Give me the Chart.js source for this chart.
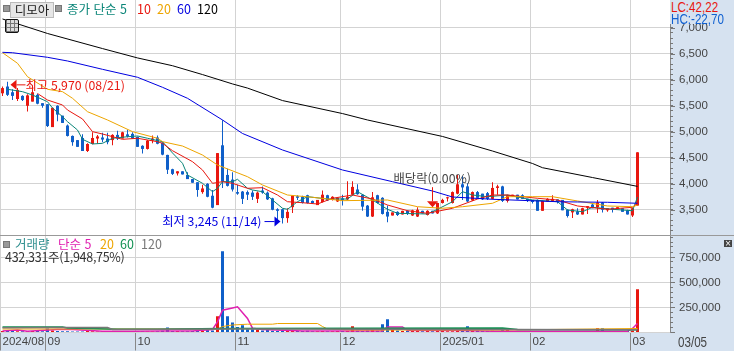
<!DOCTYPE html>
<html lang="ko">
<head>
<meta charset="utf-8">
<title>디모아</title>
<script src="https://cdn.jsdelivr.net/npm/chart.js@4/dist/chart.umd.min.js"></script>
<style>
    html, body { margin: 0; padding: 0; }
    body { width: 734px; height: 351px; position: relative; overflow: hidden; background: #d6e2f0; font-family: "Noto Sans CJK KR", sans-serif; }
    canvas { position: absolute; left: 0; }
    #price-chart { top: 0; }
    #volume-chart { top: 236px; }
    .txt { position: absolute; white-space: nowrap; font-size: 12.5px; line-height: 14px; }
    .num { font-family: "Liberation Sans", sans-serif; font-size: 14px; transform: scaleX(0.83); transform-origin: left center; }
    .mark { position: absolute; width: 5px; height: 5px; background: #999; border: 1px solid #777; }
    #stock-name { left: 10px; top: 2px; width: 42px; height: 14px; background: #e6e6e6; border: 1px solid #bbb; text-align: center; color: #222; }
    #table-icon { position: absolute; left: 5px; top: 19px; width: 12px; height: 12px; border: 1px solid #111; border-radius: 2px; background: repeating-linear-gradient(90deg, #777 0 1px, transparent 1px 4px), repeating-linear-gradient(0deg, #777 0 1px, #ddd 1px 4px); }
    #hc-box { position: absolute; left: 670px; top: 0; width: 64px; height: 24px; background: #d6e2f0; }
    #divider { position: absolute; left: 0; top: 235px; width: 734px; height: 1px; background: #999; }
    #close-icon { position: absolute; left: 724px; top: 240px; width: 8px; height: 7px; background: #444; color: #fff; font: 8px/7px "DejaVu Sans", sans-serif; text-align: center; }
</style>
</head>
<body>
<canvas id="price-chart" width="734" height="235"></canvas>
<canvas id="volume-chart" width="734" height="115"></canvas>
<div id="divider"></div>

<div class="mark" style="left:3px;top:5px"></div>
<div class="txt" id="stock-name">디모아</div>
<div class="mark" style="left:55px;top:5px"></div>
<div class="txt" style="left:67px;top:2px;color:#0a8578">종가 단순 5</div>
<div class="txt" style="left:137px;top:2px;color:#e8170f">10</div>
<div class="txt" style="left:157px;top:2px;color:#eda500">20</div>
<div class="txt" style="left:177px;top:2px;color:#0000e0">60</div>
<div class="txt" style="left:197px;top:2px;color:#000">120</div>
<div id="table-icon"></div>

<div id="hc-box"></div>
<div class="txt num" style="left:671px;top:0;color:#e8170f">LC:42,22</div>
<div class="txt num" style="left:671px;top:12px;color:#1060d0">HC:-22,70</div>

<div class="mark" style="left:3px;top:241px"></div>
<div class="txt" style="left:15px;top:237px;color:#2f8f8f">거래량</div>
<div class="txt" style="left:58px;top:237px;color:#e020b0">단순 5</div>
<div class="txt" style="left:100px;top:237px;color:#eda500">20</div>
<div class="txt" style="left:120px;top:237px;color:#109050">60</div>
<div class="txt" style="left:141px;top:237px;color:#777">120</div>
<div class="txt" style="left:5px;top:250px;color:#333;letter-spacing:-0.3px">432,331주(1,948,75%)</div>
<div id="close-icon">×</div>
<div class="txt num" style="left:678px;top:335px;color:#444">03/05</div>

<script>
// 월 시작 위치에만 라벨
const dayLabels = [
    '2024/08','','','','','','','','',
    '09','','','','','','','','','','','','','','','','','',
    '10','','','','','','','','','','','','','','','','','','','',
    '11','','','','','','','','','','','','','','','','','','','','',
    '12','','','','','','','','','','','','','','','','','','','',
    '2025/01','','','','','','','','','','','','','','','','','',
    '02','','','','','','','','','','','','','','','','','','','',
    '03','',
    '','','','','',''
];
const priceTicks = [3500, 4000, 4500, 5000, 5500, 6000, 6500, 7000];
const volumeTicks = [0, 250000, 500000, 750000];

const openPrices = [5750,5880,5770,5640,5700,5510,5590,5720,5560,5540,5100,5510,5320,5130,4930,4850,4890,4640,4775,4880,4900,4880,4850,4950,4880,4960,4970,4910,4740,4680,4840,4900,4800,4565,4290,4210,4250,4180,4100,4040,3850,4010,3780,3600,4750,4180,4090,3850,3860,3850,3840,3720,3880,3840,3730,3520,3520,3350,3560,3770,3760,3790,3680,3600,3660,3790,3700,3670,3730,3710,3800,3900,3800,3590,3380,3790,3740,3470,3400,3470,3420,3490,3400,3380,3490,3410,3490,3440,3640,3730,3640,3820,4000,3960,3690,3850,3820,3830,3720,3930,3960,3680,3770,3800,3790,3720,3700,3700,3490,3670,3680,3710,3700,3510,3460,3480,3420,3550,3610,3560,3650,3500,3550,3520,3540,3500,3400,3590];
const highPrices = [5880,5970,5830,5850,5710,5730,5900,5740,5560,5540,5470,5520,5320,5150,4940,4850,4960,4790,5000,4950,4990,4990,4960,5030,5010,5050,5000,4920,4750,4850,4940,4940,4810,4570,4300,4250,4250,4230,4100,4040,3990,4020,3890,4600,5230,4300,4230,3990,3870,3880,3880,3860,3960,3860,3740,3540,3530,3540,3790,3790,3780,3800,3690,3700,3880,3800,3770,3740,3800,4060,4060,4000,3810,3600,3850,3800,3750,3590,3460,3480,3490,3500,3510,3560,3490,3500,3490,3650,3720,3760,3860,4180,4160,4020,3860,3870,3820,3850,4040,3990,3970,3800,3800,3800,3810,3720,3700,3710,3690,3730,3790,3710,3700,3520,3530,3540,3550,3580,3620,3700,3660,3540,3550,3560,3540,3510,3550,4615];
const lowPrices = [5700,5700,5620,5600,5600,5400,5590,5540,5470,5100,5100,5210,5180,4920,4740,4720,4640,4620,4770,4780,4810,4770,4750,4850,4880,4900,4870,4720,4590,4670,4790,4770,4560,4200,4180,4170,4190,4100,4030,3760,3820,3750,3540,3600,3930,3960,3860,3800,3620,3700,3700,3640,3820,3700,3500,3300,3245,3260,3450,3700,3630,3630,3620,3600,3650,3680,3690,3660,3590,3700,3790,3800,3490,3370,3370,3630,3420,3270,3400,3390,3420,3410,3390,3370,3440,3400,3440,3430,3630,3670,3630,3810,3700,3660,3680,3740,3700,3700,3710,3800,3660,3650,3770,3710,3720,3660,3630,3490,3490,3670,3680,3630,3500,3360,3350,3410,3420,3430,3540,3450,3460,3470,3460,3520,3470,3420,3370,3590];
const closePrices = [5850,5720,5700,5815,5620,5710,5770,5550,5510,5120,5470,5340,5180,4930,4810,4720,4640,4775,4890,4920,4860,4810,4950,4880,5000,4920,4880,4720,4680,4840,4880,4780,4570,4280,4200,4250,4190,4100,4030,3890,3920,3760,3550,4600,4050,3970,3900,3820,3720,3800,3760,3840,3840,3710,3510,3490,3350,3470,3780,3740,3640,3640,3640,3700,3800,3690,3760,3740,3700,3760,3950,3810,3570,3380,3750,3640,3430,3380,3460,3410,3490,3440,3500,3510,3440,3490,3440,3640,3700,3750,3850,4000,3940,3670,3850,3740,3710,3720,3930,3960,3680,3790,3800,3710,3720,3690,3660,3490,3680,3720,3720,3670,3500,3390,3520,3420,3540,3580,3540,3650,3510,3540,3510,3560,3470,3420,3540,4615];
const volumes = [15000,18000,14000,12000,13000,12000,15000,14000,13000,40000,20000,14000,12000,12000,10000,11000,10000,14000,12000,11000,10000,10000,10000,11000,12000,10000,11000,12000,12000,11000,10000,12000,18000,50000,16000,14000,13000,12000,14000,22000,14000,24000,20000,163000,813000,163000,100000,56000,73000,33000,33000,30000,20000,25000,18000,14000,16000,22000,26000,14000,14000,18000,12000,13000,16000,12000,13000,14000,14000,16000,63000,18000,15000,20000,24000,18000,83000,133000,46000,20000,15000,14000,30000,16000,12000,14000,13000,18000,14000,12000,13000,18000,20000,63000,20000,18000,14000,16000,18000,16000,33000,33000,14000,13000,12000,12000,12000,14000,13000,12000,12000,13000,14000,13000,13000,12000,14000,14000,12000,43000,43000,13000,14000,12000,13000,14000,20000,432331];

// 이동평균선: 그림에서 읽은 지점만 (일자 위치, 값)
const ma5Days = [1,4,6,9,10,12,13,15,16,18,20,22,25,27,29,32,34,36,37,40,42,43,44,46,47,49,50,52,54,56,57,59,61,65,69,71,74,77,79,85,87,90,92,94,97,101,106,111,113,116,118,122,126,127];
const ma5Values = [5827,5781,5717,5588,5467,5300,5204,5044,4865,4775,4788,4885,4915,4929,4885,4819,4602,4404,4179,4019,3858,3923,4050,4050,4096,3923,3890,3858,3698,3539,3519,3665,3762,3717,3717,3858,3698,3519,3442,3429,3519,3665,3858,3794,3762,3794,3698,3665,3506,3473,3558,3519,3492,3756];
const ma10Days = [7,9,12,13,16,18,20,24,27,31,32,34,38,40,42,44,46,49,52,55,57,60,63,66,70,74,77,81,85,90,95,98,101,107,111,115,121,126,127];
const ma10Values = [5746,5621,5525,5429,5256,5012,4967,4865,4885,4819,4788,4646,4435,4275,4019,4050,4019,3923,3935,3794,3665,3646,3621,3731,3794,3717,3602,3492,3442,3539,3717,3794,3794,3731,3698,3583,3519,3558,3640];
const ma20Days = [0,3,5,9,12,14,17,21,26,31,32,36,40,43,49,52,57,62,68,77,83,88,92,98,101,106,110,115,121,126,127];
const ma20Values = [6531,6327,6069,5827,5781,5654,5396,5237,5012,4885,4820,4736,4563,4371,4146,3987,3794,3750,3685,3698,3569,3539,3569,3635,3762,3762,3762,3679,3583,3569,3600];
const ma60Days = [0,2,9,13,20,27,32,37,44,48,56,68,78,86,90,98,111,115,121,127];
const ma60Values = [6538,6530,6442,6371,6211,6058,5865,5654,5237,4977,4660,4275,4050,3871,3756,3712,3665,3660,3654,3635];
const ma120Days = [0,9,20,27,34,40,46,49,56,68,73,88,98,106,108,118,127];
const ma120Values = [7179,6900,6610,6430,6280,6110,5930,5850,5610,5360,5237,4920,4640,4400,4319,4130,3960];

const volMa5Days = [0,3,5,11,14,20,26,32,38,42,43,44,46,47,49,50,52,60,64,76,77,80,81,91,98,125,126,127];
const volMa5Values = [15000,25000,12000,30000,30000,13000,13000,14000,14000,30000,106000,223000,245000,257000,140000,43000,30000,16000,16000,16000,56000,56000,20000,20000,13000,13000,40000,90000];
const volMa20Days = [0,43,44,46,49,54,55,63,64,65,70,100,127];
const volMa20Values = [35000,35000,60000,75000,83000,83000,90000,90000,60000,35000,25000,25000,40000];
const volMa60Days = [0,12,13,23,31,44,100,103,127];
const volMa60Values = [56000,56000,45000,33000,33000,40000,45000,30000,28000];
const volMa120Days = [0,9,21,22,48,127];
const volMa120Values = [48000,50000,50000,30000,35000,27000];

const RED = '#e8170f';
const BLUE = '#0f5fc9';
const GRID = '#d3d3d3';
const AXIS = '#888888';
const TICK_FONT = { family: '"Liberation Sans", sans-serif', size: 11.5 };
const NOTE_FONT = '12.3px "Noto Sans CJK KR", sans-serif';

const upDown = closePrices.map((c, i) => (c >= openPrices[i] ? RED : BLUE));

// 읽은 지점만 채우고 나머지는 비워 둔다
function sparseSeries(days, values) {
    const series = dayLabels.map(() => null);
    days.forEach((day, i) => { series[day] = values[i]; });
    return series;
}

function lineDataset(days, values, color, width) {
    return {
        type: 'line',
        data: sparseSeries(days, values),
        borderColor: color,
        borderWidth: width || 1,
        pointRadius: 0,
        tension: 0,
        spanGaps: true,
        order: 0
    };
}

function barDataset(data, thickness, order) {
    return { type: 'bar', data, backgroundColor: upDown, barThickness: thickness, inflateAmount: 0, grouped: false, order };
}

function monthGridColor(ctx) {
    return ctx.tick && ctx.tick.label ? GRID : 'transparent';
}

function fixedTicks(values) {
    return (scale) => {
        scale.ticks = values.map((value) => ({ value }));
    };
}

// 축 라벨 때문에 차트 영역이 줄지 않게 한다
function noLabelPadding(scale) {
    scale.paddingTop = 0;
    scale.paddingBottom = 0;
    scale.paddingLeft = 0;
    scale.paddingRight = 0;
}

// 차트 영역 흰 배경과 가로 격자
const plotBackground = {
    id: 'plotBackground',
    beforeDraw(chart) {
        const { ctx, chartArea } = chart;
        ctx.save();
        ctx.fillStyle = '#ffffff';
        ctx.fillRect(chartArea.left, chartArea.top, chartArea.right - chartArea.left, chartArea.bottom - chartArea.top);
        ctx.restore();
    },
    beforeDatasetsDraw(chart) {
        const { ctx, chartArea, scales } = chart;
        ctx.save();
        ctx.strokeStyle = GRID;
        ctx.lineWidth = 1;
        scales.y.ticks.forEach((tick) => {
            const y = Math.round(scales.y.getPixelForValue(tick.value)) - 0.5;
            ctx.beginPath();
            ctx.moveTo(chartArea.left, y);
            ctx.lineTo(chartArea.right, y);
            ctx.stroke();
        });
        ctx.restore();
    }
};

// 오른쪽 축의 작은 눈금
const minorTicks = {
    id: 'minorTicks',
    afterDraw(chart, args, opts) {
        const scale = chart.scales.y;
        const ctx = chart.ctx;
        ctx.save();
        ctx.strokeStyle = '#777';
        ctx.lineWidth = 1;
        for (let v = opts.start; v <= scale.max; v += opts.step) {
            const y = Math.round(scale.getPixelForValue(v)) - 0.5;
            ctx.beginPath();
            ctx.moveTo(scale.left, y);
            ctx.lineTo(scale.left + 3, y);
            ctx.stroke();
        }
        ctx.restore();
    }
};

// 최고/최저/배당락 표시
const priceNotes = {
    id: 'priceNotes',
    afterDatasetsDraw(chart) {
        const { ctx, scales } = chart;
        const xAt = (i) => scales.x.getPixelForValue(i);
        const yAt = (v) => scales.y.getPixelForValue(v);
        ctx.save();
        ctx.font = NOTE_FONT;
        ctx.textBaseline = 'middle';

        // 최고
        const hx = xAt(1) + 3;
        const hy = yAt(5970) + 3;
        ctx.fillStyle = RED;
        ctx.beginPath();
        ctx.moveTo(hx, hy);
        ctx.lineTo(hx + 6, hy - 5);
        ctx.lineTo(hx + 6, hy + 5);
        ctx.fill();
        ctx.fillRect(hx + 6, hy - 0.5, 9, 1);
        ctx.fillText('최고 5,970 (08/21)', hx + 15, hy);

        // 최저
        const lx = xAt(56) - 2;
        const ly = yAt(3245) - 2;
        ctx.fillStyle = '#0000e0';
        ctx.beginPath();
        ctx.moveTo(lx, ly);
        ctx.lineTo(lx - 6, ly - 5);
        ctx.lineTo(lx - 6, ly + 5);
        ctx.fill();
        ctx.fillRect(lx - 16, ly - 0.5, 10, 1);
        ctx.textAlign = 'right';
        ctx.fillText('최저 3,245 (11/14)', lx - 19, ly);

        // 배당락
        const dx = xAt(86);
        const dy = yAt(3560);
        ctx.fillStyle = RED;
        ctx.beginPath();
        ctx.moveTo(dx, dy);
        ctx.lineTo(dx - 5.5, dy - 6);
        ctx.lineTo(dx + 5.5, dy - 6);
        ctx.fill();
        ctx.fillRect(dx - 0.5, dy - 20, 1, 14);
        ctx.fillStyle = '#444';
        ctx.textAlign = 'left';
        ctx.fillText('배당락(0.00%)', dx - 39, dy - 29);
        ctx.restore();
    }
};

function panelWidth(scale) {
    scale.width = 64;
    noLabelPadding(scale);
}

new Chart(document.getElementById('price-chart'), {
    data: {
        labels: dayLabels,
        datasets: [
            barDataset(lowPrices.map((v, i) => [v, highPrices[i]]), 1, 2),
            barDataset(openPrices.map((v, i) => [v, closePrices[i]]), 3, 1),
            lineDataset(ma120Days, ma120Values, '#000000'),
            lineDataset(ma60Days, ma60Values, '#0000e0'),
            lineDataset(ma20Days, ma20Values, '#eda500'),
            lineDataset(ma10Days, ma10Values, RED),
            lineDataset(ma5Days, ma5Values, '#0a8578')
        ]
    },
    options: {
        responsive: false,
        animation: false,
        layout: { padding: 0, autoPadding: false },
        plugins: { legend: { display: false }, tooltip: { enabled: false }, minorTicks: { start: 3100, step: 100 } },
        scales: {
            x: {
                offset: true,
                afterFit: (scale) => { scale.height = 0; noLabelPadding(scale); },
                ticks: { display: false, autoSkip: false, callback(value) { return dayLabels[value]; } },
                grid: { color: monthGridColor, drawTicks: false, offset: true },
                border: { display: false }
            },
            y: {
                position: 'right',
                min: 3025,
                max: 7544,
                afterFit: panelWidth,
                afterBuildTicks: fixedTicks(priceTicks),
                ticks: {
                    padding: 4,
                    color: '#444',
                    font: TICK_FONT,
                    callback(value) { return value.toLocaleString('en-US'); }
                },
                grid: { drawOnChartArea: false, color: GRID, tickColor: '#777', tickLength: 5 },
                border: { color: AXIS }
            }
        }
    },
    plugins: [plotBackground, minorTicks, priceNotes]
});

new Chart(document.getElementById('volume-chart'), {
    data: {
        labels: dayLabels,
        datasets: [
            barDataset(volumes, 3, 1),
            lineDataset(volMa120Days, volMa120Values, '#777777', 1.5),
            lineDataset(volMa60Days, volMa60Values, '#109050', 1.5),
            lineDataset(volMa20Days, volMa20Values, '#eda500'),
            lineDataset(volMa5Days, volMa5Values, '#e020b0', 1.5)
        ]
    },
    options: {
        responsive: false,
        animation: false,
        layout: { padding: 0, autoPadding: false },
        plugins: { legend: { display: false }, tooltip: { enabled: false }, minorTicks: { start: 50000, step: 50000 } },
        scales: {
            x: {
                offset: true,
                afterFit: (scale) => { scale.height = 18.5; noLabelPadding(scale); },
                ticks: {
                    autoSkip: false,
                    maxRotation: 0,
                    align: 'start',
                    padding: -16,
                    color: '#444',
                    font: TICK_FONT,
                    callback(value) { return dayLabels[value]; }
                },
                grid: { color: monthGridColor, tickColor: (ctx) => (ctx.tick && ctx.tick.label ? AXIS : 'transparent'), tickLength: 18, offset: true },
                border: { color: AXIS }
            },
            y: {
                position: 'right',
                min: 0,
                max: 965000,
                afterFit: panelWidth,
                afterBuildTicks: fixedTicks(volumeTicks),
                ticks: {
                    padding: 4,
                    color: '#444',
                    font: TICK_FONT,
                    callback(value) { return value === 0 ? '' : value.toLocaleString('en-US'); }
                },
                grid: { drawOnChartArea: false, color: GRID, tickColor: '#777', tickLength: 5 },
                border: { color: AXIS }
            }
        }
    },
    plugins: [plotBackground, minorTicks]
});
</script>
</body>
</html>
